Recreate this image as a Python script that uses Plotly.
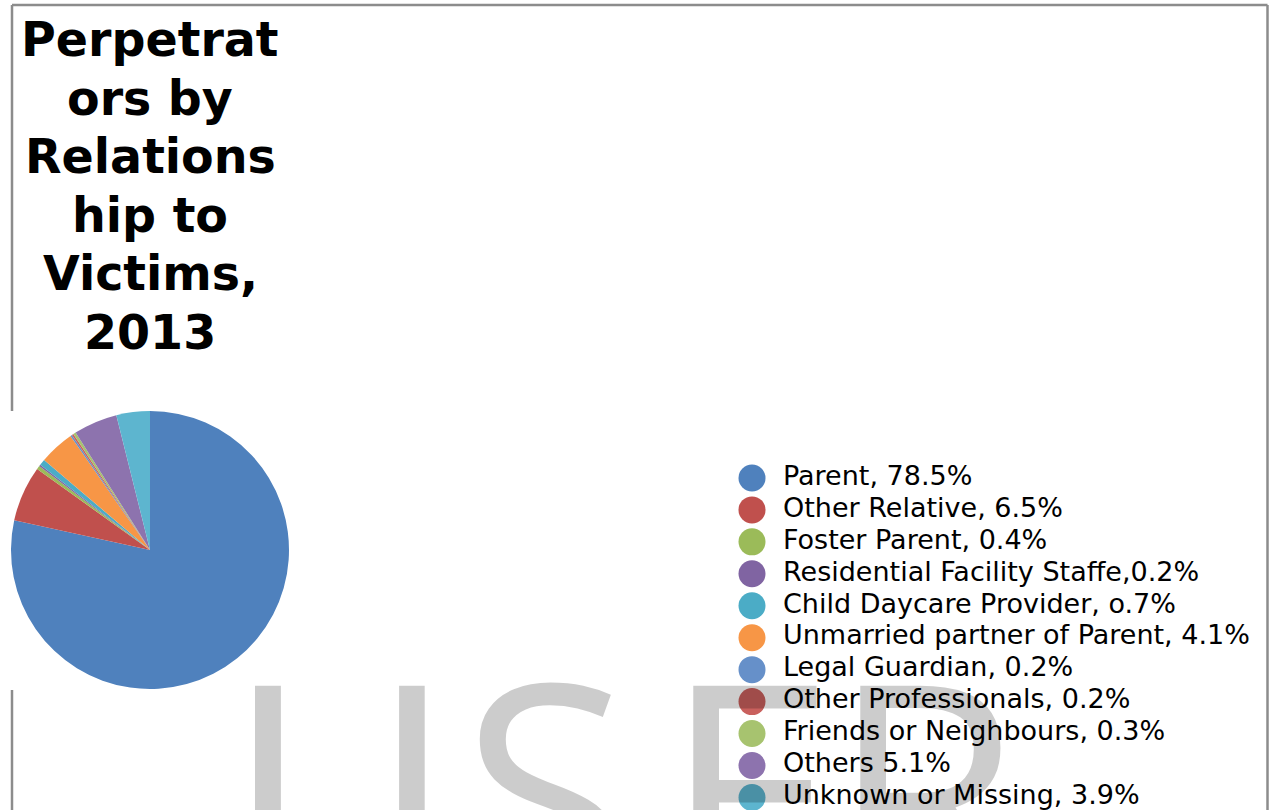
import plotly.graph_objects as go

W, H = 1269, 810

# ---- data ----
categories = ["Parent", "Other Relative", "Foster Parent", "Residential Facility Staffe",
              "Child Daycare Provider", "Unmarried partner of Parent", "Legal Guardian",
              "Other Professionals", "Friends or Neighbours", "Others", "Unknown or Missing"]
values = [78.5, 6.5, 0.4, 0.2, 0.7, 4.1, 0.2, 0.2, 0.3, 5.1, 3.9]
legend_labels = ["Parent, 78.5%", "Other Relative, 6.5%", "Foster Parent, 0.4%",
                 "Residential Facility Staffe,0.2%", "Child Daycare Provider, o.7%",
                 "Unmarried partner of Parent, 4.1%", "Legal Guardian, 0.2%",
                 "Other Professionals, 0.2%", "Friends or Neighbours, 0.3%",
                 "Others 5.1%", "Unknown or Missing, 3.9%"]
colors = ["#4F81BD", "#C0504D", "#9BBB59", "#8064A2", "#4BACC6", "#F79646",
          "#6690C9", "#C9605D", "#A7C36F", "#8D73AE", "#5DB5CF"]
title_lines = ["Perpetrat", "ors by", "Relations", "hip to", "Victims,", "2013"]
watermark_letters = ["U", "S", "E", "R"]

# ---- layout constants (pixels) ----
def px(x):
    return x / W

def py(y):
    return 1 - y / H

MARKER_X, TEXT_X = 752, 783
ROW_TOP, ROW_H = 462.0, 31.95
TITLE_SIZE = 47.5
TITLE_BASE0, TITLE_STEP = 55, 58.6
WM_SIZE = 310
WM_LEFT = [225, 459, 661, 828]
WM_TOP = 574

fig = go.Figure()

fig.add_trace(go.Pie(
    labels=categories, values=values, sort=False, direction="clockwise",
    rotation=0, textinfo="none", hoverinfo="label+percent",
    marker=dict(colors=colors, line=dict(width=0)),
    domain=dict(x=[px(11), px(289)], y=[py(689), py(411)]),
    showlegend=False,
))

# custom legend
fig.add_trace(go.Scatter(
    x=[MARKER_X] * len(legend_labels), y=legend_labels, mode="markers",
    marker=dict(size=27, color=colors, line=dict(width=0)),
    showlegend=False, hoverinfo="skip", cliponaxis=False,
))
fig.add_trace(go.Scatter(
    x=[TEXT_X] * len(legend_labels), y=legend_labels, mode="text",
    text=legend_labels, textposition="middle right",
    textfont=dict(family="DejaVu Sans", size=27, color="#000000"),
    showlegend=False, hoverinfo="skip", cliponaxis=False,
))

bottom_val = (H - ROW_TOP) / ROW_H - 0.5
fig.update_xaxes(visible=False, range=[0, W], domain=[0, 1], fixedrange=True)
fig.update_yaxes(visible=False, type="category", categoryorder="array",
                 categoryarray=legend_labels, range=[bottom_val, -0.5],
                 domain=[0, py(ROW_TOP)], fixedrange=True)

border = dict(color="#8c8c8c", width=2.5)
shapes = [
    dict(type="line", xref="paper", yref="paper", x0=px(12), x1=px(1267.5), y0=py(5), y1=py(5), line=border),
    dict(type="line", xref="paper", yref="paper", x0=px(1267.5), x1=px(1267.5), y0=py(5), y1=py(812), line=border),
    dict(type="line", xref="paper", yref="paper", x0=px(12), x1=px(12), y0=py(5), y1=py(411), line=border),
    dict(type="line", xref="paper", yref="paper", x0=px(12), x1=px(12), y0=py(690), y1=py(812), line=border),
]

annotations = []
for i, line in enumerate(title_lines):
    base = TITLE_BASE0 + i * TITLE_STEP
    annotations.append(dict(
        text=line, xref="paper", yref="paper",
        x=px(150), y=py(base - 0.928 * TITLE_SIZE - 1), xanchor="center", yanchor="top",
        showarrow=False,
        font=dict(family="DejaVu Sans", size=TITLE_SIZE, color="#000000", weight="bold")))

for letter, left in zip(watermark_letters, WM_LEFT):
    annotations.append(dict(
        text=letter, xref="paper", yref="paper",
        x=px(left), y=py(WM_TOP), xanchor="left", yanchor="top",
        showarrow=False,
        font=dict(family="Open Sans", size=WM_SIZE, color="rgba(0,0,0,0.2)")))

fig.update_layout(
    width=W, height=H, margin=dict(l=0, r=0, t=0, b=0),
    paper_bgcolor="white", plot_bgcolor="white",
    shapes=shapes, annotations=annotations, showlegend=False,
)

fig.write_html("out.html")
